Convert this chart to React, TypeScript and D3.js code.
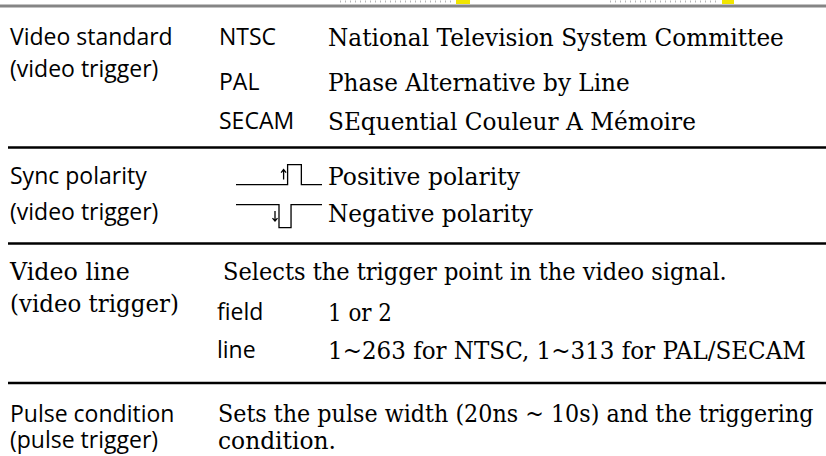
import React, { useMemo } from "react";
import * as d3 from "d3";

const W = 826;
const H = 456;

// ---- content ----
const groupTitles: string[][] = [
  ["Video standard", "(video trigger)"],
  ["Sync polarity", "(video trigger)"],
  ["Video line", "(video trigger)"],
  ["Pulse condition", "(pulse trigger)"],
];
const standardCodes = ["NTSC", "PAL", "SECAM"];
const standardNames = [
  "National Television System Committee",
  "Phase Alternative by Line",
  "SEquential Couleur A Mémoire",
];
const polarityKinds = ["positive", "negative"];
const polarityNames = ["Positive polarity", "Negative polarity"];
const videoLineIntro = "Selects the trigger point in the video signal.";
const videoLineKeys = ["field", "line"];
const videoLineValues = ["1 or 2", "1~263 for NTSC, 1~313 for PAL/SECAM"];
const pulseText = ["Sets the pulse width (20ns ~ 10s) and the triggering", "condition."];

// ---- layout (positions / sizes only) ----
const SANS = "'Open Sans', 'Noto Sans', sans-serif";
const SERIF = "'DejaVu Serif', serif";
const sansSize = 23;
const serifSize = 24.5;

const sepY = d3.scaleOrdinal<number, number>().domain([0, 1, 2]).range([147.5, 243.5, 383]);
const leftCenters = [[37, 69], [176, 212], [271, 303], [413.5, 440]];
const stdCenters = [37, 82, 121];
const polCenters = [176, 213];
const vlCenters = [271, 312, 350];
const descX = 328;
// rendered widths of the serif lines (book-face proportions)
const stdWidths = [456, 302, 368];
const polWidths = [192, 205];
const introWidth = 504;
const vlWidths = [64, 478];
const pulseWidths = [596, 118];
const leftSerifWidths = [120, 169];
// page-header leftovers above the top rule
const headerDots = [[340, 455], [610, 720]];
const headerMarks = [[456, 470], [722, 734]];

let measureCtx: CanvasRenderingContext2D | null = null;
function measure(str: string): number {
  if (!measureCtx) {
    const c = document.createElement("canvas");
    measureCtx = c.getContext("2d");
  }
  if (!measureCtx) return str.length * serifSize * 0.55;
  measureCtx.font = `${serifSize}px 'DejaVu Serif', serif`;
  return measureCtx.measureText(str).width;
}

function SyncSymbol({ kind, cy }: { kind: string; cy: number }) {
  const x = d3.scaleLinear().domain([0, 1]).range([236, 322]);
  const baseLine = cy + 0.35 * serifSize;
  const pos = kind === "positive";
  const hi = pos ? baseLine - 20 : baseLine - 17;
  const lo = pos ? baseLine : baseLine + 6;
  const base = pos ? lo : hi;
  const peak = pos ? hi : lo;
  const e1 = pos ? 0.6 : 0.5;
  const e2 = pos ? 0.76 : 0.64;
  const pts: [number, number][] = [
    [x(0), base],
    [x(e1), base],
    [x(e1), peak],
    [x(e2), peak],
    [x(e2), base],
    [x(1), base],
  ];
  const line = d3.line();
  const ax = x(e1) - 4;
  const mid = (hi + lo) / 2;
  const dir = pos ? -1 : 1;
  const arrow = d3.path();
  arrow.moveTo(ax, mid - dir * 5);
  arrow.lineTo(ax, mid + dir * 5);
  arrow.moveTo(ax - 2.5, mid + dir * 2);
  arrow.lineTo(ax, mid + dir * 5);
  arrow.lineTo(ax + 2.5, mid + dir * 2);
  return (
    <g fill="none" stroke="#000" strokeWidth={1.3}>
      <path d={line(pts) || ""} />
      <path d={arrow.toString()} />
    </g>
  );
}

function SerifText({ x, y, width, children }: { x: number; y: number; width: number; children: string }) {
  const sx = useMemo(() => {
    const natural = measure(children);
    return natural > 0 ? width / natural : 1;
  }, [children, width]);
  return (
    <text transform={`translate(${x},${y}) scale(${sx},1)`} x={0} y={0} dy="0.35em" fontFamily={SERIF} fontSize={serifSize} fill="#000">
      {children}
    </text>
  );
}

export default function App() {
  const dy = "0.35em";
  return (
    <svg width={W} height={H} style={{ position: "absolute", left: 0, top: 0, background: "#fff" }}>
      {headerDots.map(([a, b], i) => (
        <line key={"d" + i} x1={a} x2={b} y1={1.5} y2={1.5} stroke="#b5b5b5" strokeWidth={2} strokeDasharray="1 4" />
      ))}
      {headerMarks.map(([a, b], i) => (
        <rect key={"m" + i} x={a} y={0} width={b - a} height={4} fill="#f2e600" />
      ))}
      <line x1={0} x2={W} y1={6} y2={6} stroke="#858585" strokeWidth={3} />
      {[0, 1, 2].map((i) => (
        <line key={i} x1={8} x2={W} y1={sepY(i)} y2={sepY(i)} stroke="#000" strokeWidth={2.5} />
      ))}
      {groupTitles.map((g, i) =>
        i === 2 ? (
          g.map((t, j) => (
            <SerifText key={i + "-" + j} x={10} y={leftCenters[i][j]} width={leftSerifWidths[j]}>{t}</SerifText>
          ))
        ) : (
          <text key={"g" + i} fontFamily={SANS} fontSize={sansSize} fill="#000">
            {g.map((t, j) => (
              <tspan key={j} x={10} y={leftCenters[i][j]} dy={dy}>{t}</tspan>
            ))}
          </text>
        )
      )}
      {standardCodes.map((c, i) => (
        <text key={c} x={219} y={stdCenters[i]} dy={dy} fontFamily={SANS} fontSize={sansSize}>{c}</text>
      ))}
      {standardNames.map((c, i) => (
        <SerifText key={c} x={descX} y={stdCenters[i]} width={stdWidths[i]}>{c}</SerifText>
      ))}
      {polarityKinds.map((k, i) => (
        <SyncSymbol key={k} kind={k} cy={polCenters[i]} />
      ))}
      {polarityNames.map((c, i) => (
        <SerifText key={c} x={descX} y={polCenters[i]} width={polWidths[i]}>{c}</SerifText>
      ))}
      <SerifText x={223} y={vlCenters[0]} width={introWidth}>{videoLineIntro}</SerifText>
      {videoLineKeys.map((c, i) => (
        <text key={c} x={217} y={vlCenters[i + 1]} dy={dy} fontFamily={SANS} fontSize={sansSize}>{c}</text>
      ))}
      {videoLineValues.map((c, i) => (
        <SerifText key={c} x={descX} y={vlCenters[i + 1]} width={vlWidths[i]}>{c}</SerifText>
      ))}
      {pulseText.map((c, i) => (
        <SerifText key={c} x={218} y={leftCenters[3][i]} width={pulseWidths[i]}>{c}</SerifText>
      ))}
    </svg>
  );
}
